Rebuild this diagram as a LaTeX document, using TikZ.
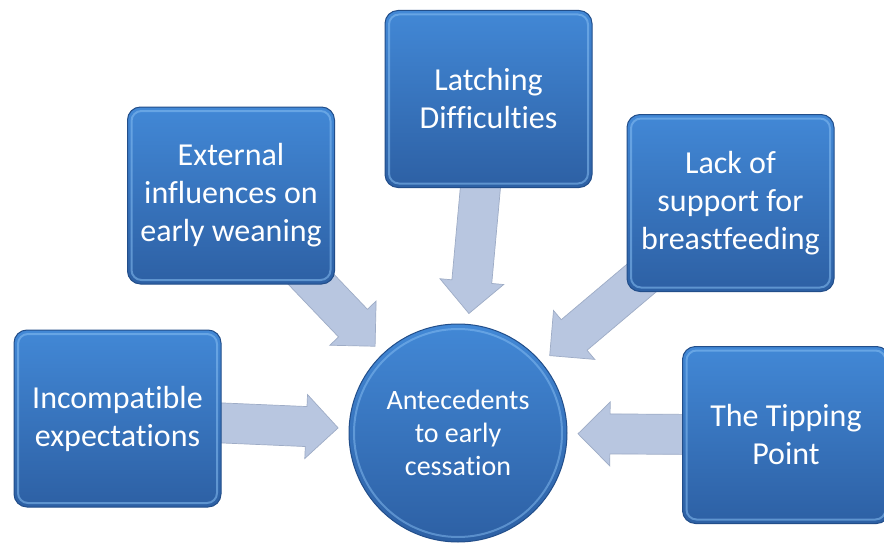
\documentclass[tikz,border=0pt]{standalone}
\usepackage{fontspec}
\setmainfont{Carlito}[RawFeature=-liga]
\usetikzlibrary{calc,backgrounds}
\definecolor{boxtop}{RGB}{66,136,214}
\definecolor{boxbot}{RGB}{45,96,164}
\definecolor{boxline}{RGB}{34,78,138}
\definecolor{rim}{RGB}{135,190,242}
\definecolor{arrfill}{RGB}{184,198,224}
\definecolor{arrline}{RGB}{158,172,198}
\tikzset{
  stepbox/.style={rectangle, rounded corners=13pt, top color=boxtop, bottom color=boxbot,
    draw=boxline, line width=1pt, minimum width=207pt, minimum height=177pt,
    text=white, align=center, inner sep=0pt, font=\fontsize{32}{38}\selectfont,
    path picture={\draw[rim, line width=2pt, opacity=.55, rounded corners=10pt]
      ($(path picture bounding box.south west)+(4pt,4pt)$) rectangle
      ($(path picture bounding box.north east)+(-4pt,-4pt)$);}},
  hub/.style={circle, top color=boxtop, bottom color=boxbot, draw=boxline, line width=1pt,
    minimum size=218pt, inner sep=0pt, text=white, align=center,
    font=\fontsize{28}{33}\selectfont,
    path picture={\draw[rim, line width=2pt, opacity=.5]
      (path picture bounding box.center) circle (104pt);}},
  blockarr/.style={fill=arrfill, draw=arrline, line width=0.7pt, line join=miter}
}
\newcommand{\blockarrow}[2]{%
  \path ($(#2.center)!120pt!(#1.center)$) coordinate (atip)
        ($(atip)!32pt!(#1.center)$) coordinate (ahb);
  \filldraw[blockarr] ($(#1.center)!20pt!90:(atip)$) -- ($(ahb)!20pt!90:(atip)$)
    -- ($(ahb)!32pt!90:(atip)$) -- (atip) -- ($(ahb)!32pt!-90:(atip)$)
    -- ($(ahb)!20pt!-90:(atip)$) -- ($(#1.center)!20pt!-90:(atip)$) -- cycle;}
\begin{document}
\begin{tikzpicture}[x=1pt,y=-1pt]
\useasboundingbox (0,0) rectangle (884,551);
\node[hub] (c) at (458,433) {Antecedents\\to early\\cessation};
\node[stepbox] (inc) at (117.5,418.5) {Incompatible\\expectations};
\node[stepbox] (ext) at (231,195.5) {External\\influences on\\early weaning};
\node[stepbox] (lat) at (488.5,99) {Latching\\Difficulties};
\node[stepbox] (lack) at (730.5,203) {Lack of\\support for\\breastfeeding};
\node[stepbox] (tp) at (786,435) {The Tipping\\Point};
\begin{scope}[on background layer]
  \fill[white] (0,0) rectangle (884,551);
  \blockarrow{inc}{c}
  \blockarrow{ext}{c}
  \blockarrow{lat}{c}
  \blockarrow{lack}{c}
  \blockarrow{tp}{c}
\end{scope}
\end{tikzpicture}
\end{document}
